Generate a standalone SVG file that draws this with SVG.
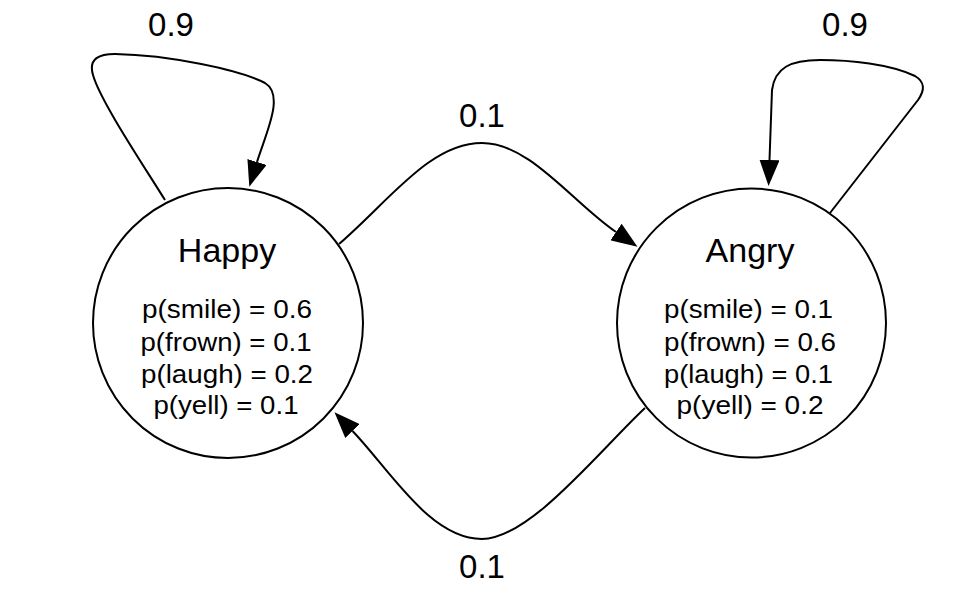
<svg xmlns="http://www.w3.org/2000/svg" width="960" height="592" viewBox="0 0 960 592">
<style>
.node circle{fill:#fff;stroke:#000;stroke-width:2}
.title{font-family:"Liberation Sans",Arial,sans-serif;font-size:34px;fill:#000;text-anchor:middle}
.prob{font-family:"Liberation Sans",Arial,sans-serif;font-size:25px;fill:#000;text-anchor:middle}
.lbl{font-family:"Liberation Sans",Arial,sans-serif;font-size:33px;fill:#000;text-anchor:middle}
.edge{fill:none;stroke:#000;stroke-width:2;marker-end:url(#arrow)}
</style>
<defs>
<marker id="arrow" markerUnits="userSpaceOnUse" viewBox="0 0 26 20" refX="0" refY="10" markerWidth="26" markerHeight="20" orient="auto">
<path d="M0,0 L26,10 L0,20 Z" fill="#000"/>
</marker>
</defs>
<rect width="960" height="592" fill="#fff"/>
<g id="connectors">
<path class="edge" d="M339,244 C390,200 430,143 482,143 C530,143 572,202 616,232"/>
<path class="edge" d="M645,408 C600,450 530,539 482,539 C430,539 390,470 352.5,431"/>
<path class="edge" d="M165,200 C140,160 100,100 93,75 C88,58 100,54 115,54 C170,55 240,70 265,83 C285,95 266,133 257,162"/>
<path class="edge" d="M830,213 L918,100 C925,90 925,82 915,76 C890,64 850,60 820,60 C790,60 775,68 772,90 L769.5,160"/>
<text class="lbl" x="171" y="36">0.9</text>
<text class="lbl" x="845" y="36">0.9</text>
<text class="lbl" x="482" y="127">0.1</text>
<text class="lbl" x="482" y="578">0.1</text>
</g>
<g id="happy" class="node">
<circle cx="228" cy="323" r="135"/>
<text class="title" x="227" y="262">Happy</text>
<text class="prob" x="227" y="318" textLength="170" lengthAdjust="spacingAndGlyphs">p(smile) = 0.6</text>
<text class="prob" x="226" y="351" textLength="171" lengthAdjust="spacingAndGlyphs">p(frown) = 0.1</text>
<text class="prob" x="227" y="383" textLength="172" lengthAdjust="spacingAndGlyphs">p(laugh) = 0.2</text>
<text class="prob" x="226" y="414" textLength="145" lengthAdjust="spacingAndGlyphs">p(yell) = 0.1</text>
</g>
<g id="angry" class="node">
<circle cx="751.5" cy="323" r="134.5"/>
<text class="title" x="750" y="262">Angry</text>
<text class="prob" x="748.5" y="318" textLength="169" lengthAdjust="spacingAndGlyphs">p(smile) = 0.1</text>
<text class="prob" x="750" y="351" textLength="172" lengthAdjust="spacingAndGlyphs">p(frown) = 0.6</text>
<text class="prob" x="748.5" y="383" textLength="169" lengthAdjust="spacingAndGlyphs">p(laugh) = 0.1</text>
<text class="prob" x="750" y="414" textLength="147" lengthAdjust="spacingAndGlyphs">p(yell) = 0.2</text>
</g>
</svg>
